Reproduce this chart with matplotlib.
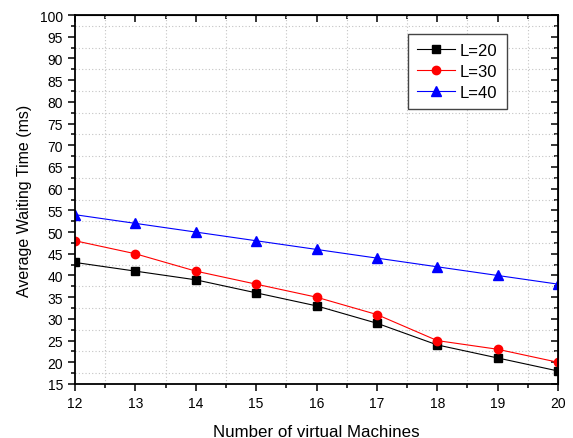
import matplotlib
matplotlib.use("Agg")
import matplotlib.pyplot as plt
from matplotlib.ticker import MultipleLocator

plt.rcParams["font.family"] = ["Liberation Sans", "DejaVu Sans"]

machines = [12, 13, 14, 15, 16, 17, 18, 19, 20]
wait_l20 = [43, 41, 39, 36, 33, 29, 24, 21, 18]
wait_l30 = [48, 45, 41, 38, 35, 31, 25, 23, 20]
wait_l40 = [54, 52, 50, 48, 46, 44, 42, 40, 38]

fig = plt.figure(figsize=(5.73, 4.39), dpi=100)
ax = fig.add_axes([75 / 573, 1 - 385 / 439, (558 - 75) / 573, (385 - 16) / 439])

ax.plot(machines, wait_l20, color="black", marker="s", markersize=5.5, linewidth=0.8, label="L=20")
ax.plot(machines, wait_l30, color="red", marker="o", markersize=6, linewidth=0.8, label="L=30")
ax.plot(machines, wait_l40, color="blue", marker="^", markersize=6.5, linewidth=0.8, label="L=40")

ax.set_xlim(12, 20)
ax.set_ylim(15, 100)
ax.xaxis.set_major_locator(MultipleLocator(1))
ax.xaxis.set_minor_locator(MultipleLocator(0.5))
ax.yaxis.set_major_locator(MultipleLocator(5))
ax.yaxis.set_minor_locator(MultipleLocator(2.5))

ax.grid(which="minor", linestyle=(0, (1, 2)), color="#c4c4c4", linewidth=0.8)
ax.grid(which="major", visible=False)

for s in ax.spines.values():
    s.set_linewidth(1.3)

ax.tick_params(which="both", direction="out", top=False, right=False, labelsize=10, width=1.1)
ax.tick_params(which="major", length=5)
ax.tick_params(which="minor", length=3)

# inward ticks on top and right, Origin style
ax2 = ax.secondary_xaxis("top")
ax2.xaxis.set_major_locator(MultipleLocator(1))
ax2.xaxis.set_minor_locator(MultipleLocator(0.5))
ax2.tick_params(which="both", direction="in", labeltop=False, width=1.1)
ax2.tick_params(which="major", length=5)
ax2.tick_params(which="minor", length=3)
ay2 = ax.secondary_yaxis("right")
ay2.yaxis.set_major_locator(MultipleLocator(5))
ay2.yaxis.set_minor_locator(MultipleLocator(2.5))
ay2.tick_params(which="both", direction="in", labelright=False, width=1.1)
ay2.tick_params(which="major", length=5)
ay2.tick_params(which="minor", length=3)

ax.set_xlabel("Number of virtual Machines", fontsize=12.2, labelpad=10)
ax.set_ylabel("Average Waiting Time (ms)", fontsize=11.5, labelpad=6)

leg = ax.legend(loc="upper right", bbox_to_anchor=(0.894, 0.9485), fontsize=12, handlelength=2.3,
                fancybox=False, framealpha=1, edgecolor="#444444", borderpad=0.55,
                borderaxespad=0, labelspacing=0.35, handletextpad=0.3)
leg.get_frame().set_linewidth(1.0)

fig.savefig("out.png", dpi=100)
